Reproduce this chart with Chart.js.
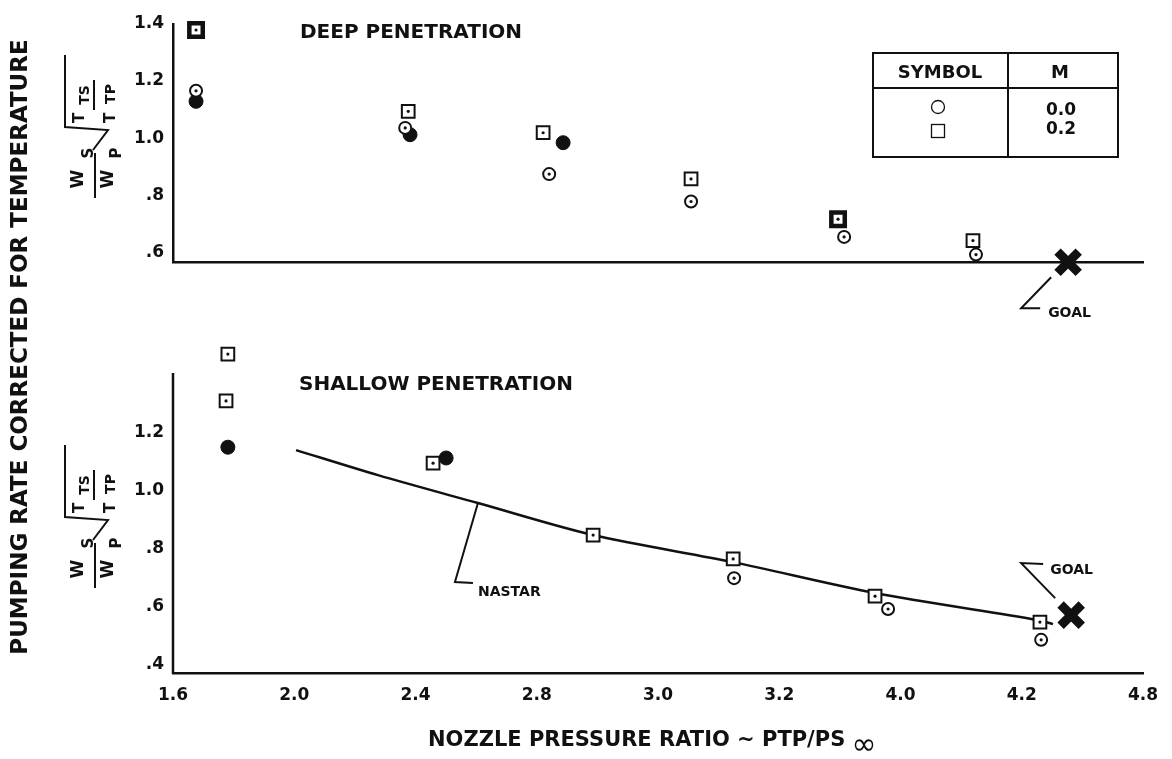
<!DOCTYPE html>
<html>
<head>
<meta charset="utf-8">
<script src="https://cdn.jsdelivr.net/npm/chart.js@4"></script>
<style>
  html, body { margin: 0; padding: 0; background: #fff; }
  #wrap { position: relative; width: 1172px; height: 759px; }
  #wrap canvas { position: absolute; left: 0; top: 0; }
</style>
</head>
<body>
<div id="wrap">
  <canvas id="deepChart" width="1172" height="759"></canvas>
  <canvas id="shallowChart" width="1172" height="759"></canvas>
</div>
<script>
// x axis (shared by both panels)
const xMin = 1.6, xMax = 4.8;
const xTickValues = [1.6, 2.0, 2.4, 2.8, 3.2, 3.6, 4.0, 4.4, 4.8];
const xTickLabels = ['1.6', '2.0', '2.4', '2.8', '3.0', '3.2', '4.0', '4.2', '4.8'];

// deep penetration panel
const deepYTicks = [0.6, 0.8, 1.0, 1.2, 1.4];
const deepYLabels = ['.6', '.8', '1.0', '1.2', '1.4'];
const deepCircleX = [1.676, 2.366, 2.841, 3.309, 3.814, 4.249];
const deepCircleY = [1.166, 1.036, 0.874, 0.778, 0.654, 0.592];
const deepSquareX = [2.376, 2.821, 3.309, 4.239];
const deepSquareY = [1.094, 1.019, 0.857, 0.641];
const deepBoldSquareX = [1.676, 3.794];
const deepBoldSquareY = [1.379, 0.716];
const deepSolidX = [1.676, 2.382, 2.887];
const deepSolidY = [1.129, 1.012, 0.984];
const deepGoalX = [4.553];
const deepGoalY = [0.565];

// shallow penetration panel
const shallowYTicks = [0.4, 0.6, 0.8, 1.0, 1.2];
const shallowYLabels = ['.4', '.6', '.8', '1.0', '1.2'];
const shallowAxisTop = 1.403;   // drawn y axis stops here; two squares sit above it
const shallowSquareX = [1.781, 1.775, 2.458, 2.986, 3.448, 3.916, 4.460];
const shallowSquareY = [1.468, 1.307, 1.093, 0.846, 0.764, 0.636, 0.547];
const shallowCircleX = [3.451, 3.959, 4.464];
const shallowCircleY = [0.698, 0.592, 0.486];
const shallowSolidX = [1.781, 2.501];
const shallowSolidY = [1.148, 1.111];
const shallowGoalX = [4.563];
const shallowGoalY = [0.571];
const nastarX = [2.006, 2.276, 2.606, 2.986, 3.448, 3.916, 4.454, 4.503];
const nastarY = [1.138, 1.052, 0.956, 0.846, 0.753, 0.647, 0.554, 0.540];

const FONT = "'DejaVu Sans', 'Liberation Sans', sans-serif";
const INK = '#111';

const pts = (xs, ys) => xs.map((x, i) => ({ x: x, y: ys[i] }));

function text(ctx, str, x, y, size, align, weight) {
    ctx.font = (weight || 'bold') + ' ' + size + 'px ' + FONT;
    ctx.textAlign = align || 'left';
    ctx.textBaseline = 'middle';
    ctx.fillStyle = INK;
    ctx.fillText(str, x, y);
}

function polyline(ctx, points, width) {
    ctx.beginPath();
    ctx.moveTo(points[0][0], points[0][1]);
    for (let i = 1; i < points.length; i++) ctx.lineTo(points[i][0], points[i][1]);
    ctx.lineWidth = width || 2;
    ctx.strokeStyle = INK;
    ctx.stroke();
}

// W_S / W_P * sqrt(T_TS / T_TP), written sideways
function drawFormula(ctx, ox, oy) {
    ctx.save();
    ctx.translate(ox, oy);
    ctx.rotate(-Math.PI / 2);
    polyline(ctx, [[0, 30], [45, 30]], 2);
    text(ctx, 'W', 19, 14, 17, 'center');
    text(ctx, 'S', 45, 24, 15, 'center');
    text(ctx, 'W', 19, 44, 17, 'center');
    text(ctx, 'P', 45, 52, 15, 'center');
    polyline(ctx, [[48, 28], [68, 43], [71, 0], [143, 0]], 2);
    text(ctx, 'T', 80, 15, 15, 'center');
    text(ctx, 'TS', 103, 20, 14, 'center');
    polyline(ctx, [[88, 29], [118, 29]], 2);
    text(ctx, 'T', 80, 46, 15, 'center');
    text(ctx, 'TP', 104, 46, 14, 'center');
    ctx.restore();
}

const centerDots = {
    id: 'centerDots',
    afterDatasetsDraw(chart) {
        const ctx = chart.ctx;
        chart.data.datasets.forEach((ds, i) => {
            if (!ds.centerDot) return;
            chart.getDatasetMeta(i).data.forEach(p => {
                ctx.beginPath();
                ctx.arc(p.x, p.y, 1.6, 0, Math.PI * 2);
                ctx.fillStyle = INK;
                ctx.fill();
            });
        });
    }
};

const deepNotes = {
    id: 'deepNotes',
    afterDraw(chart) {
        const ctx = chart.ctx;
        ctx.save();
        // y axis title, shared by both panels
        ctx.save();
        ctx.translate(21, 347);
        ctx.rotate(-Math.PI / 2);
        text(ctx, 'PUMPING RATE CORRECTED FOR TEMPERATURE', 0, 0, 23, 'center');
        ctx.restore();

        drawFormula(ctx, 65, 198);
        text(ctx, 'DEEP PENETRATION', 300, 33, 20);

        // symbol table
        ctx.lineWidth = 2;
        ctx.strokeStyle = INK;
        ctx.strokeRect(873, 53, 245, 104);
        polyline(ctx, [[1008, 53], [1008, 157]], 2);
        polyline(ctx, [[873, 88], [1118, 88]], 2);
        text(ctx, 'SYMBOL', 940, 73, 18, 'center');
        text(ctx, 'M', 1060, 73, 18, 'center');
        ctx.lineWidth = 1.3;
        ctx.beginPath();
        ctx.arc(938, 107, 6.5, 0, Math.PI * 2);
        ctx.stroke();
        ctx.strokeRect(931.5, 124.5, 13, 13);
        text(ctx, '0.0', 1061, 111, 17, 'center');
        text(ctx, '0.2', 1061, 130, 17, 'center');

        // goal callout
        const g = chart.getDatasetMeta(0).data[0];
        polyline(ctx, [[g.x - 17, g.y + 15], [g.x - 47, g.y + 46], [g.x - 28, g.y + 46]], 2);
        text(ctx, 'GOAL', g.x - 20, g.y + 51, 14);
        ctx.restore();
    }
};

const shallowNotes = {
    id: 'shallowNotes',
    beforeDatasetsDraw(chart) {
        // y axis line, only up to the axis top value
        const ctx = chart.ctx;
        const x = chart.chartArea.left;
        ctx.save();
        polyline(ctx, [[x, chart.scales.y.getPixelForValue(shallowAxisTop)], [x, chart.chartArea.bottom + 1]], 2.5);
        ctx.restore();
    },
    afterDraw(chart) {
        const ctx = chart.ctx;
        ctx.save();
        drawFormula(ctx, 65, 588);
        text(ctx, 'SHALLOW PENETRATION', 299, 385, 20);

        // goal callout
        const g = chart.getDatasetMeta(0).data[0];
        polyline(ctx, [[g.x - 16, g.y - 17], [g.x - 50, g.y - 52], [g.x - 28, g.y - 51]], 2);
        text(ctx, 'GOAL', g.x - 21, g.y - 45, 14);

        // NASTAR callout
        const px = chart.scales.x.getPixelForValue(nastarX[2]);
        const py = chart.scales.y.getPixelForValue(nastarY[2]);
        polyline(ctx, [[px, py], [px - 23, py + 79], [px - 5, py + 80]], 2);
        text(ctx, 'NASTAR', px, py + 89, 14);

        // x axis title
        text(ctx, 'NOZZLE PRESSURE RATIO ~ PTP/PS', 428, 741, 21);
        text(ctx, '\u221E', 864, 746, 30, 'center', 'normal');
        ctx.restore();
    }
};

function xAxis(showTicks, height) {
    return {
        type: 'linear',
        min: xMin,
        max: xMax,
        afterBuildTicks: s => { s.ticks = xTickValues.map(v => ({ value: v })); },
        afterFit: s => { s.height = height; },
        grid: { display: false, drawTicks: false },
        border: { display: true, color: INK, width: 2.5 },
        ticks: {
            display: showTicks,
            padding: 12,
            color: INK,
            maxRotation: 0,
            font: { family: FONT, size: 17, weight: 'bold' },
            callback: (v, i) => xTickLabels[i]
        }
    };
}

function yAxis(min, max, tickValues, tickLabels, showBorder) {
    return {
        type: 'linear',
        min: min,
        max: max,
        afterBuildTicks: s => { s.ticks = tickValues.map(v => ({ value: v })); },
        afterFit: s => { s.width = 60; },
        grid: { display: false, drawTicks: false },
        border: { display: showBorder, color: INK, width: 2.5 },
        ticks: {
            padding: 9,
            color: INK,
            font: { family: FONT, size: 17, weight: 'bold' },
            callback: (v, i) => tickLabels[i]
        }
    };
}

function marker(style, radius, border, fill, extra) {
    return Object.assign({
        pointStyle: style,
        pointRadius: radius,
        pointBorderWidth: border,
        pointBorderColor: INK,
        pointBackgroundColor: fill,
        showLine: false,
        clip: false
    }, extra || {});
}

const commonOptions = {
    responsive: false,
    devicePixelRatio: 1,
    animation: false,
    events: [],
    plugins: { legend: { display: false }, tooltip: { enabled: false } }
};

new Chart(document.getElementById('deepChart'), {
    type: 'scatter',
    data: {
        datasets: [
            Object.assign({ data: pts(deepGoalX, deepGoalY) }, marker('crossRot', 15, 9, INK)),
            Object.assign({ data: pts(deepCircleX, deepCircleY) }, marker('circle', 6, 2, '#fff', { centerDot: true })),
            Object.assign({ data: pts(deepSolidX, deepSolidY) }, marker('circle', 7, 1, INK)),
            Object.assign({ data: pts(deepSquareX, deepSquareY) }, marker('rect', 9, 2, '#fff', { centerDot: true })),
            Object.assign({ data: pts(deepBoldSquareX, deepBoldSquareY) }, marker('rect', 9.5, 4.5, '#fff', { centerDot: true }))
        ]
    },
    options: Object.assign({}, commonOptions, {
        layout: { padding: { left: 113, right: 29, top: 19, bottom: 497 } },
        scales: {
            x: xAxis(false, 0),
            y: yAxis(0.566, 1.4, deepYTicks, deepYLabels, true)
        }
    }),
    plugins: [centerDots, deepNotes]
});

new Chart(document.getElementById('shallowChart'), {
    type: 'scatter',
    data: {
        datasets: [
            Object.assign({ data: pts(shallowGoalX, shallowGoalY) }, marker('crossRot', 15, 9, INK)),
            Object.assign({ data: pts(shallowCircleX, shallowCircleY) }, marker('circle', 6, 2, '#fff', { centerDot: true })),
            Object.assign({ data: pts(shallowSolidX, shallowSolidY) }, marker('circle', 7, 1, INK)),
            Object.assign({ data: pts(shallowSquareX, shallowSquareY) }, marker('rect', 9, 2, '#fff', { centerDot: true })),
            {
                data: pts(nastarX, nastarY),
                showLine: true,
                borderColor: INK,
                borderWidth: 2.5,
                tension: 0.3,
                pointRadius: 0,
                clip: false
            }
        ]
    },
    options: Object.assign({}, commonOptions, {
        layout: { padding: { left: 113, right: 29, top: 347.7, bottom: 0 } },
        scales: {
            x: xAxis(true, 86),
            y: yAxis(0.372, 1.49, shallowYTicks, shallowYLabels, false)
        }
    }),
    plugins: [centerDots, shallowNotes]
});
</script>
</body>
</html>
